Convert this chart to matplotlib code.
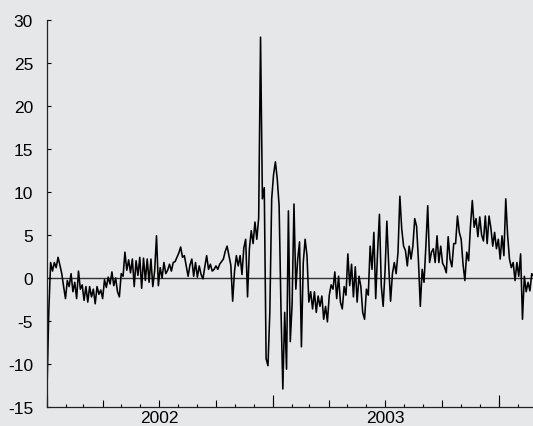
import matplotlib
matplotlib.use('Agg')
import matplotlib.pyplot as plt
import matplotlib.dates as mdates
import pandas as pd

plt.rcParams['font.family'] = ['Liberation Sans', 'DejaVu Sans']
plt.rcParams['axes.unicode_minus'] = False

# series sampled every 3 days from the start of 2002
start = '2002-01-01'
step = '3D'
vals = [
    -13.5, -4.0, 1.8, 0.8, 1.8, 1.2, 2.4, 1.5, 0.5, -1.0,
    -2.4, -0.3, -1.0, 0.5, -1.6, -0.5, -2.4, 0.8, -1.3, -0.8,
    -2.6, -1.0, -2.8, -1.0, -2.2, -1.3, -3.0, -1.0, -1.9, -1.4,
    -2.4, -0.2, -1.1, 0.1, -0.7, 0.7, -0.9, 0.0, -1.6, -2.2,
    0.5, 0.2, 3.0, 0.9, 2.1, 0.6, 2.2, -1.0, 2.0, 0.3,
    2.4, -1.2, 2.3, -0.3, 2.2, -0.5, 2.2, -1.0, 0.8, 4.9,
    -0.9, 1.2, 0.0, 1.8, 0.5, 0.9, 1.6, 0.8, 1.8, 1.9,
    2.4, 2.9, 3.6, 2.4, 2.6, 1.4, 0.2, 1.5, 2.2, 0.2,
    1.8, 0.1, 1.4, 0.4, -0.1, 1.3, 2.6, 1.0, 1.6, 0.8,
    1.0, 1.4, 1.0, 1.6, 1.9, 2.2, 3.1, 3.7, 2.6, 1.5,
    -2.7, 0.8, 2.6, 1.4, 2.6, 0.4, 3.5, 4.5, -2.2, 3.4,
    5.5, 4.0, 6.5, 4.5, 7.0, 28.0, 9.2, 10.5, -9.4, -10.2,
    -4.0, 9.2, 12.0, 13.5, 11.5, 8.4, -3.6, -12.9, -4.0, -10.6,
    7.8, -7.4, -3.0, 8.6, -1.3, 2.2, 4.2, -8.0, 1.8, 4.5,
    2.6, -2.8, -1.6, -3.6, -1.6, -4.0, -2.1, -3.3, -2.1, -4.8,
    -3.3, -5.1, -2.0, -0.8, -1.3, 0.7, -2.4, 0.2, -2.8, -3.6,
    -1.0, -2.0, 2.8, -0.9, 1.6, -2.2, 1.3, -2.8, 0.2, -1.0,
    -4.0, -4.8, -1.3, -2.0, 3.7, 1.0, 5.3, -2.4, 3.0, 7.4,
    -0.9, -3.3, 0.7, 6.6, 1.4, -2.7, 0.5, 1.8, 0.5, 3.0,
    9.5, 5.7, 3.7, 3.2, 1.4, 3.7, 2.2, 3.7, 6.9, 6.0,
    2.0, -3.3, 1.0, -0.5, 3.7, 8.4, 1.8, 3.0, 3.4, 1.8,
    4.9, 1.8, 3.7, 1.7, 1.3, 0.6, 4.8, 2.2, 1.3, 4.0,
    4.0, 7.2, 5.3, 4.5, 1.6, -0.3, 3.0, 2.0, 6.0, 9.0,
    5.9, 6.9, 4.8, 7.1, 5.0, 4.3, 7.2, 4.0, 7.2, 5.8,
    3.7, 5.3, 3.4, 4.5, 2.2, 4.9, 2.6, 9.2, 5.0, 2.2,
    1.2, 1.8, -0.3, 1.8, 0.2, 2.8, -4.8, 0.2, -1.6, -0.5,
    -1.5, 0.5, 0.2,
]
years = [2002, 2003]
yticks = [-15, -10, -5, 0, 5, 10, 15, 20, 25, 30]

dates = pd.date_range(start, periods=len(vals), freq=step)
s = pd.Series(vals, index=dates)

bg = '#e6e7e9'
fig = plt.figure(figsize=(5.33, 4.27), dpi=100, facecolor=bg)
ax = fig.add_axes([0.088, 0.0445, 0.912, 0.9065], facecolor=bg)

ax.axhline(0, color='#333333', lw=1.0, zorder=1)
ax.plot(s.index, s.values, color='black', lw=1.15, zorder=2)

ax.set_xlim(pd.Timestamp('2002-01-01'), pd.Timestamp('2004-02-25'))
ax.set_ylim(-15, 30)
ax.set_yticks(yticks)
ax.tick_params(axis='y', direction='in', length=3, width=0.8, pad=10,
               labelsize=12.5)

for side in ['top', 'right']:
    ax.spines[side].set_visible(False)
for side in ['left', 'bottom']:
    ax.spines[side].set_color('#222222')
    ax.spines[side].set_linewidth(0.9)

# quarter and month ticks
ax.xaxis.set_major_locator(mdates.MonthLocator(bymonth=[1, 4, 7, 10]))
ax.xaxis.set_minor_locator(mdates.MonthLocator())
ax.xaxis.set_major_formatter(plt.NullFormatter())
ax.tick_params(axis='x', which='major', direction='in', length=5, width=0.8)
ax.tick_params(axis='x', which='minor', direction='in', length=2.2, width=0.8)

# year boundaries and year labels
sec = ax.secondary_xaxis('bottom')
sec.set_xticks([mdates.date2num(pd.Timestamp(f'{y}-01-01')) for y in years + [years[-1] + 1]])
sec.set_xticklabels([])
sec.tick_params(which='major', direction='in', length=9, width=0.8)
sec.set_xticks([mdates.date2num(pd.Timestamp(f'{y}-07-02')) for y in years], minor=True)
sec.set_xticklabels([str(y) for y in years], minor=True)
sec.tick_params(which='minor', length=0, pad=2.5, labelsize=12.5)
sec.spines['bottom'].set_visible(False)

fig.savefig('out.png', dpi=100, facecolor=bg)
